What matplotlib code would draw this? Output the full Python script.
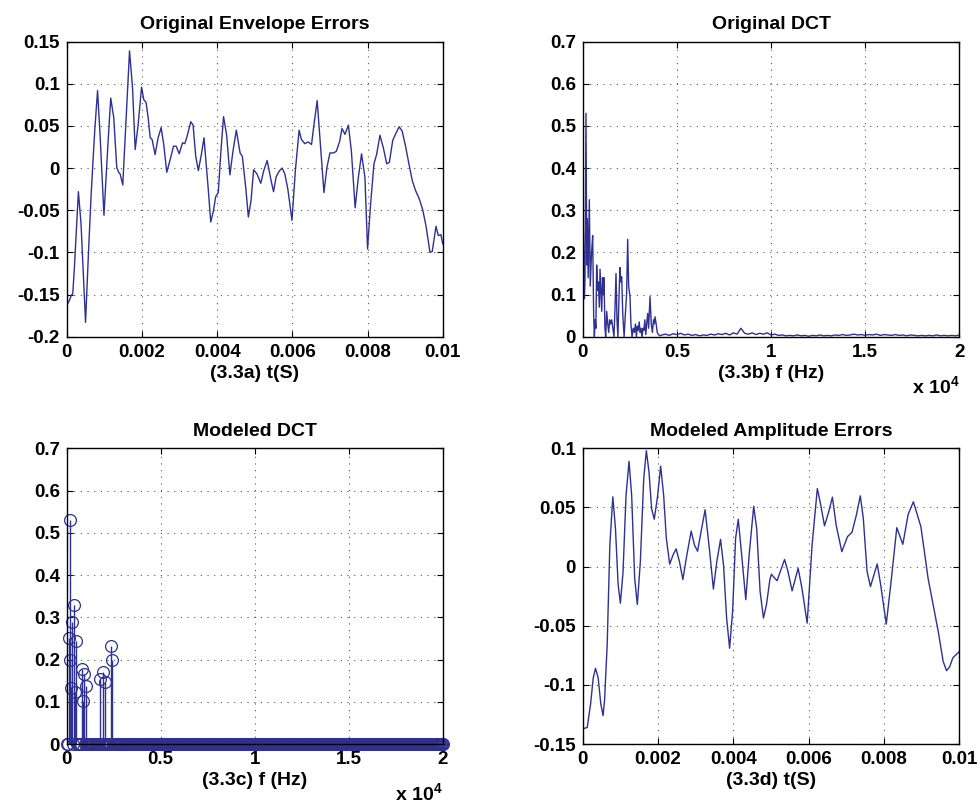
import numpy as np
import matplotlib
matplotlib.use('Agg')
import matplotlib.pyplot as plt
from matplotlib.ticker import FuncFormatter

plt.rcParams['font.family'] = ['Liberation Sans', 'DejaVu Sans']
plt.rcParams['font.weight'] = 'bold'
plt.rcParams['axes.unicode_minus'] = False
plt.rcParams['mathtext.fontset'] = 'custom'
plt.rcParams['mathtext.rm'] = 'Liberation Sans:bold'
plt.rcParams['mathtext.bf'] = 'Liberation Sans:bold'

line_color = '#2e3192'

# (3.3a) original envelope errors
t_orig = [0, 0.00007, 0.00012, 0.00016, 0.0002, 0.00031, 0.00038, 0.0005, 0.00058, 0.00065,
          0.00071, 0.00075, 0.00082, 0.00089, 0.00099, 0.00109, 0.00117, 0.00125, 0.00133, 0.00138,
          0.00142, 0.00149, 0.00158, 0.00167, 0.00175, 0.00182, 0.0019, 0.00199, 0.00205, 0.00211,
          0.00217, 0.00222, 0.00227, 0.00235, 0.00243, 0.00251, 0.00258, 0.00266, 0.00275, 0.00284,
          0.00291, 0.00299, 0.00308, 0.00314, 0.00319, 0.0033, 0.00336, 0.00343, 0.0035, 0.00358,
          0.00365, 0.00376, 0.00383, 0.0039, 0.00396, 0.00403, 0.0041, 0.00417, 0.00425, 0.00434,
          0.00442, 0.00451, 0.00461, 0.00467, 0.00476, 0.00483, 0.0049, 0.00497, 0.00506, 0.00516,
          0.00524, 0.00533, 0.00544, 0.0055, 0.00557, 0.00566, 0.00573, 0.0058, 0.00588, 0.00599,
          0.00608, 0.00618, 0.00624, 0.00633, 0.00642, 0.00651, 0.00657, 0.00666, 0.00675, 0.00684,
          0.00692, 0.007, 0.0071, 0.00717, 0.00726, 0.00732, 0.0074, 0.00749, 0.00757, 0.00767,
          0.00775, 0.00784, 0.00793, 0.008, 0.00808, 0.00817, 0.00824, 0.00833, 0.00842, 0.00851,
          0.00858, 0.00867, 0.00874, 0.00884, 0.00892, 0.00901, 0.0091, 0.00919, 0.00928, 0.00938,
          0.00947, 0.00956, 0.00966, 0.00972, 0.00982, 0.00988, 0.00995, 0.01]
e_orig = [-0.163, -0.157, -0.151, -0.149, -0.121, -0.028, -0.066, -0.183, -0.098, -0.031,
          0.018, 0.048, 0.092, 0.036, -0.056, 0.024, 0.083, 0.060, 0.001, -0.005,
          -0.007, -0.020, 0.060, 0.139, 0.095, 0.022, 0.052, 0.096, 0.081, 0.078,
          0.058, 0.036, 0.034, 0.016, 0.036, 0.048, 0.028, -0.005, 0.010, 0.026,
          0.026, 0.017, 0.030, 0.029, 0.036, 0.055, 0.051, 0.014, -0.003, 0.016,
          0.036, -0.023, -0.064, -0.051, -0.034, -0.029, 0.020, 0.061, 0.040, -0.008,
          0.020, 0.045, 0.018, 0.014, -0.023, -0.058, -0.039, -0.002, -0.007, -0.018,
          -0.003, 0.009, -0.016, -0.028, -0.010, -0.003, 0.000, -0.007, -0.025, -0.062,
          -0.003, 0.045, 0.034, 0.029, 0.031, 0.028, 0.050, 0.080, 0.026, -0.029,
          0.001, 0.018, 0.018, 0.020, 0.032, 0.047, 0.040, 0.051, 0.020, -0.047,
          -0.013, 0.017, -0.011, -0.096, -0.043, 0.005, 0.016, 0.039, 0.024, 0.005,
          0.007, 0.033, 0.040, 0.049, 0.044, 0.026, 0.005, -0.015, -0.027, -0.037,
          -0.050, -0.070, -0.100, -0.099, -0.069, -0.080, -0.079, -0.090]

# (3.3b) original DCT magnitude
f_low = [0, 35, 90, 122, 175, 215, 246, 290, 352, 400, 470, 529, 582, 620, 660, 700,
         741, 790, 830, 883, 920, 972, 1010, 1050, 1100, 1131, 1180, 1220, 1273, 1330,
         1380, 1430, 1485, 1540, 1600, 1660, 1710, 1768, 1820, 1870, 1930, 1980, 2020,
         2069, 2130, 2200, 2260, 2330, 2388, 2440, 2512, 2560, 2620, 2680, 2740, 2800,
         2850, 2900, 2950, 3000, 3050, 3100, 3150, 3200, 3250, 3300, 3350, 3400, 3451,
         3500, 3575, 3640, 3700, 3760, 3800, 3841, 3900, 3960, 4020, 4105]
dct_low = [0.12, 0.25, 0.09, 0.14, 0.53, 0.17, 0.28, 0.14, 0.325, 0.12, 0.20, 0.24, 0.05, 0.0, 0.04, 0.02,
           0.17, 0.11, 0.13, 0.07, 0.16, 0.10, 0.06, 0.14, 0.10, 0.14, 0.02, 0.0, 0.06, 0.03,
           0.01, 0.04, 0.03, 0.04, 0.02, 0.0, 0.06, 0.15, 0.04, 0.0, 0.10, 0.164, 0.13,
           0.142, 0.05, 0.0, 0.05, 0.10, 0.231, 0.12, 0.095, 0.03, 0.0, 0.02, 0.01, 0.03,
           0.0, 0.025, 0.015, 0.035, 0.01, 0.02, 0.0, 0.02, 0.015, 0.04, 0.005, 0.032, 0.055,
           0.02, 0.095, 0.03, 0.01, 0.04, 0.03, 0.047, 0.03, 0.01, 0.005, 0.002]
f_tail = np.arange(4200, 20001, 200)
dct_tail = [0.004, 0.006, 0.003, 0.007, 0.005, 0.008, 0.004, 0.006, 0.003, 0.005,
            0.002, 0.004, 0.003, 0.006, 0.004, 0.007, 0.005, 0.008, 0.004, 0.009,
            0.006, 0.020, 0.008, 0.006, 0.009, 0.005, 0.008, 0.006, 0.009, 0.004,
            0.006, 0.003, 0.004, 0.002, 0.003, 0.002, 0.004, 0.002, 0.003, 0.001,
            0.003, 0.002, 0.004, 0.002, 0.003, 0.002, 0.004, 0.003, 0.005, 0.003,
            0.004, 0.006, 0.004, 0.005, 0.003, 0.005, 0.004, 0.006, 0.003, 0.005,
            0.004, 0.003, 0.005, 0.003, 0.004, 0.002, 0.004, 0.003, 0.002, 0.003,
            0.002, 0.003, 0.002, 0.004, 0.002, 0.003, 0.002, 0.003, 0.002, 0.004]

# (3.3c) modeled DCT: kept coefficients, all other bins are zero
dct_bins = np.linspace(0, 20000, 401)
kept_freq = [100, 150, 200, 250, 300, 400, 450, 500, 800, 850, 900, 1050, 1750, 1950, 2050, 2350, 2400]
kept_vals = [0.252, 0.531, 0.199, 0.132, 0.288, 0.329, 0.124, 0.244, 0.178, 0.102, 0.166,
             0.137, 0.153, 0.170, 0.146, 0.232, 0.198]

# (3.3d) modeled amplitude errors
t_mod = [0.00002, 0.00012, 0.00021, 0.00028, 0.00034, 0.00041, 0.00048, 0.00054, 0.00058, 0.00065,
         0.00072, 0.0008, 0.00087, 0.00094, 0.001, 0.00107, 0.00115, 0.00123, 0.0013, 0.00138,
         0.00145, 0.00153, 0.00162, 0.00169, 0.00176, 0.00183, 0.0019, 0.00199, 0.00207, 0.00215,
         0.00222, 0.00231, 0.0024, 0.00248, 0.00257, 0.00266, 0.00275, 0.00288, 0.00297, 0.00305,
         0.00314, 0.00325, 0.00337, 0.00347, 0.00356, 0.00366, 0.00374, 0.00382, 0.0039, 0.00398,
         0.00406, 0.00413, 0.00422, 0.00433, 0.00442, 0.00454, 0.00462, 0.00471, 0.0048, 0.00488,
         0.00497, 0.00501, 0.00516, 0.00536, 0.00545, 0.00556, 0.00572, 0.00582, 0.00596, 0.00609,
         0.00623, 0.00632, 0.00642, 0.00653, 0.00663, 0.00673, 0.00688, 0.00703, 0.00715, 0.00727,
         0.00737, 0.00745, 0.00755, 0.00764, 0.00782, 0.00791, 0.00806, 0.00818, 0.00834, 0.0085,
         0.00864, 0.00878, 0.00898, 0.00917, 0.00944, 0.00957, 0.00966, 0.00974, 0.00983, 0.00999]
e_mod = [-0.137, -0.136, -0.116, -0.094, -0.086, -0.094, -0.116, -0.126, -0.113, -0.066,
         0.018, 0.059, 0.032, -0.015, -0.031, -0.005, 0.060, 0.089, 0.060, -0.010,
         -0.032, 0.004, 0.074, 0.098, 0.080, 0.049, 0.040, 0.060, 0.085, 0.060,
         0.024, 0.002, 0.010, 0.015, 0.004, -0.011, 0.007, 0.030, 0.018, 0.013,
         0.029, 0.048, 0.013, -0.019, 0.004, 0.023, 0.001, -0.043, -0.069, -0.038,
         0.024, 0.040, 0.010, -0.028, 0.010, 0.051, 0.032, -0.021, -0.0435, -0.032,
         -0.011, -0.0065, -0.012, 0.006, -0.004, -0.0205, -0.0014, -0.018, -0.0478, 0.018,
         0.066, 0.052, 0.0345, 0.046, 0.0587, 0.035, 0.0126, 0.0253, 0.029, 0.044,
         0.0598, 0.041, -0.004, -0.0169, 0.0022, -0.015, -0.0486, -0.015, 0.0329, 0.0188,
         0.044, 0.0548, 0.0337, -0.0098, -0.0548, -0.080, -0.088, -0.085, -0.077, -0.0722]

fig = plt.figure(figsize=(9.8, 8.06), dpi=100)
ax1 = fig.add_axes([0.0681, 0.5823, 0.3837, 0.3660])
ax2 = fig.add_axes([0.5946, 0.5823, 0.3843, 0.3660])
ax3 = fig.add_axes([0.0681, 0.0769, 0.3837, 0.3669])
ax4 = fig.add_axes([0.5946, 0.0769, 0.3843, 0.3669])

hz_fmt = FuncFormatter(lambda v, p: f'{round(v / 1e4, 6) + 0.0:g}')
plain_fmt = FuncFormatter(lambda v, p: f'{round(v, 6) + 0.0:g}')

ax1.plot(t_orig, e_orig, color=line_color, lw=1)
ax1.set_xlim(0, 0.01)
ax1.set_ylim(-0.2, 0.15)
ax1.set_xticks(np.arange(0, 0.0101, 0.002))
ax1.set_yticks(np.arange(-0.2, 0.151, 0.05))
ax1.set_title('Original Envelope Errors')
ax1.set_xlabel('(3.3a) t(S)')

ax2.plot(list(f_low) + list(f_tail), dct_low + dct_tail, color=line_color, lw=1)
ax2.set_xlim(0, 20000)
ax2.set_ylim(0, 0.7)
ax2.set_xticks(np.arange(0, 20001, 5000))
ax2.set_yticks(np.arange(0, 0.71, 0.1))
ax2.xaxis.set_major_formatter(hz_fmt)
ax2.set_title('Original DCT')
ax2.set_xlabel('(3.3b) f (Hz)')

model = np.zeros(len(dct_bins))
for f, v in zip(kept_freq, kept_vals):
    model[np.argmin(np.abs(dct_bins - f))] = v
mk, st, bl = ax3.stem(dct_bins, model, basefmt=' ')
mk.set_color(line_color)
mk.set_markerfacecolor('none')
mk.set_markersize(8.5)
mk.set_markeredgewidth(0.9)
mk.set_clip_on(False)
st.set_color(line_color)
st.set_linewidth(1)
ax3.set_xlim(0, 20000)
ax3.set_ylim(0, 0.7)
ax3.set_xticks(np.arange(0, 20001, 5000))
ax3.set_yticks(np.arange(0, 0.71, 0.1))
ax3.xaxis.set_major_formatter(hz_fmt)
ax3.set_title('Modeled DCT')
ax3.set_xlabel('(3.3c) f (Hz)')

ax4.plot(t_mod, e_mod, color=line_color, lw=1)
ax4.set_xlim(0, 0.01)
ax4.set_ylim(-0.15, 0.1)
ax4.set_xticks(np.arange(0, 0.0101, 0.002))
ax4.set_yticks(np.arange(-0.15, 0.101, 0.05))
ax4.set_title('Modeled Amplitude Errors')
ax4.set_xlabel('(3.3d) t(S)')

for ax in (ax1, ax2, ax3, ax4):
    ax.yaxis.set_major_formatter(plain_fmt)
    if ax in (ax1, ax4):
        ax.xaxis.set_major_formatter(plain_fmt)
    ax.grid(True, linestyle=(0, (1, 5)), color='#555555', linewidth=0.8)
    ax.tick_params(direction='in', length=4, width=0.8, top=True, right=True,
                   labelsize=13.5, pad=5)
    ax.set_title(ax.get_title(), fontsize=14, fontweight='bold', pad=9)
    ax.xaxis.label.set_fontsize(14)
    ax.xaxis.label.set_fontweight('bold')
    ax.xaxis.labelpad = 3
    for s in ax.spines.values():
        s.set_linewidth(1)
        s.set_color('black')

for ax in (ax2, ax3):
    ax.text(1.0, -0.17, 'x 10$^4$', transform=ax.transAxes, ha='right', va='center',
            fontsize=14, fontweight='bold')

fig.savefig('out.png', dpi=100)
